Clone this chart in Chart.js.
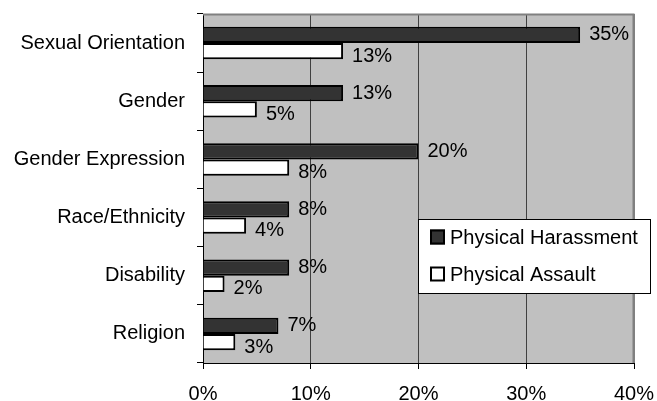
<!DOCTYPE html>
<html>
<head>
<meta charset="utf-8">
<script src="https://cdn.jsdelivr.net/npm/chart.js@4/dist/chart.umd.min.js"></script>
<style>
  html, body { margin: 0; padding: 0; background: #ffffff; }
  #wrap { width: 657px; height: 401px; }
</style>
</head>
<body>
<div id="wrap"><canvas id="chart" width="657" height="401"></canvas></div>
<script>
// Bias categories and the share of respondents reporting each incident type
const categories = ['Sexual Orientation', 'Gender', 'Gender Expression', 'Race/Ethnicity', 'Disability', 'Religion'];
const harassment = [35, 13, 20, 8, 8, 7];
const assault = [13, 5, 8, 4, 2, 3];
const seriesNames = ['Physical Harassment', 'Physical Assault'];
const xTicks = [0, 10, 20, 30, 40];

const FONT = '"Liberation Sans", Arial, sans-serif';

// Grey plot background plus the light frame along the top and right
const plotFrame = {
  id: 'plotFrame',
  beforeDraw(chart) {
    const { ctx, chartArea: a } = chart;
    ctx.save();
    ctx.fillStyle = '#c0c0c0';
    ctx.fillRect(a.left, a.top, a.right - a.left, a.bottom - a.top);
    ctx.restore();
  },
  afterDatasetsDraw(chart) {
    const { ctx, chartArea: a } = chart;
    ctx.save();
    ctx.strokeStyle = '#808080';
    ctx.lineWidth = 2;
    ctx.beginPath();
    ctx.moveTo(a.left, a.top + 0.5);
    ctx.lineTo(a.right - 0.5, a.top + 0.5);
    ctx.lineTo(a.right - 0.5, a.bottom);
    ctx.stroke();
    ctx.restore();
  }
};

// Percentage labels just past the end of every bar
const barLabels = {
  id: 'barLabels',
  afterDatasetsDraw(chart, args, opts) {
    const { ctx } = chart;
    ctx.save();
    ctx.font = opts.font;
    ctx.fillStyle = '#000';
    ctx.textAlign = 'left';
    ctx.textBaseline = 'middle';
    chart.data.datasets.forEach((ds, di) => {
      const meta = chart.getDatasetMeta(di);
      const dy = (opts.yShift && opts.yShift[di]) || 0;
      meta.data.forEach((el, i) => {
        ctx.fillText(ds.data[i] + '%', el.x + opts.gap, el.y + dy);
      });
    });
    ctx.restore();
  }
};

// Boxed legend sitting over the lower right of the plot
const boxLegend = {
  id: 'boxLegend',
  afterDraw(chart, args, opts) {
    const { ctx, chartArea: a } = chart;
    const x = a.right + opts.dx, y = a.top + opts.dy;
    ctx.save();
    ctx.fillStyle = '#ffffff';
    ctx.fillRect(x, y, opts.width, opts.height);
    ctx.strokeStyle = '#000';
    ctx.lineWidth = 1;
    ctx.strokeRect(x + 0.5, y + 0.5, opts.width - 1, opts.height - 1);
    ctx.font = opts.font;
    ctx.textBaseline = 'middle';
    ctx.textAlign = 'left';
    chart.data.datasets.forEach((ds, i) => {
      const cy = y + opts.firstRow + i * opts.rowGap;
      const s = opts.swatch;
      ctx.fillStyle = ds.backgroundColor;
      ctx.fillRect(x + opts.padX, cy - s / 2, s, s);
      ctx.lineWidth = 2;
      ctx.strokeStyle = '#000';
      ctx.strokeRect(x + opts.padX + 1, cy - s / 2 + 1, s - 2, s - 2);
      ctx.fillStyle = '#000';
      ctx.fillText(ds.label, x + opts.padX + s + 5, cy + 1);
    });
    ctx.restore();
  }
};

new Chart(document.getElementById('chart'), {
  type: 'bar',
  data: {
    labels: categories,
    datasets: [
      { label: seriesNames[0], data: harassment, backgroundColor: '#333333', borderColor: '#000000', borderWidth: 2 },
      { label: seriesNames[1], data: assault, backgroundColor: '#ffffff', borderColor: '#000000', borderWidth: 2 }
    ]
  },
  options: {
    indexAxis: 'y',
    responsive: false,
    animation: false,
    layout: { padding: { top: 14, right: 23, left: 0, bottom: 0 } },
    datasets: { bar: { categoryPercentage: 0.56, barPercentage: 1.0 } },
    scales: {
      x: {
        min: xTicks[0],
        max: xTicks[xTicks.length - 1],
        afterBuildTicks(scale) { scale.ticks = xTicks.map(v => ({ value: v })); },
        afterFit(scale) {
          scale.height = 38;
          scale.paddingLeft = 0;
          scale.paddingRight = 0;
        },
        ticks: {
          callback: v => v + '%',
          color: '#000',
          font: { family: FONT, size: 20 },
          padding: 13,
          maxRotation: 0
        },
        grid: {
          color: ctx => (ctx.tick && ctx.tick.value === xTicks[xTicks.length - 1]) ? '#808080' : '#404040',
          tickColor: '#000',
          tickLength: 6,
          lineWidth: 1
        },
        border: { display: true, color: '#000', width: 1 }
      },
      y: {
        afterFit(scale) {
          scale.width = 203;
          scale.paddingTop = 0;
          scale.paddingBottom = 0;
        },
        ticks: {
          color: '#000',
          font: { family: FONT, size: 20 },
          padding: 12
        },
        grid: {
          offset: true,
          drawOnChartArea: false,
          tickColor: '#000',
          tickLength: 6
        },
        border: { display: true, color: '#000', width: 1 }
      }
    },
    plugins: {
      legend: { display: false },
      tooltip: { enabled: false },
      barLabels: { font: '20px ' + FONT, gap: 9, yShift: [0, 5] },
      boxLegend: { font: '20px ' + FONT, dx: -216, dy: 205, width: 233, height: 75, padX: 12, swatch: 15, firstRow: 18, rowGap: 37 }
    }
  },
  plugins: [plotFrame, barLabels, boxLegend]
});
</script>
</body>
</html>
